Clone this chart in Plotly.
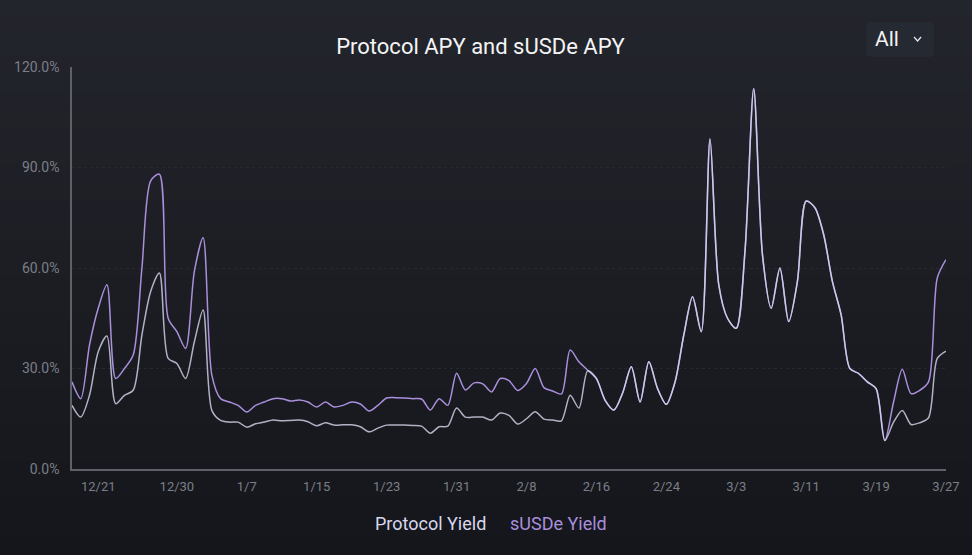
import pandas as pd
import plotly.graph_objects as go

dates = pd.date_range("2023-12-18", "2024-03-27", freq="D")

susde_yield = [
    26, 21, 37, 48, 55, 27, 30, 34, 60, 86,
    88, 45, 41, 36, 59, 69, 28, 21, 20, 19,
    17, 19, 20, 21, 21, 20.3, 20.6, 20, 18.5, 20,
    18.5, 19, 20, 19.4, 17.3, 19, 21.2, 21.3, 21.2, 21,
    20.9, 17.6, 21, 19, 28.6, 23.6, 25.7, 25.4, 23, 27,
    26.4, 23.4, 25.5, 30, 24.3, 23.3, 22.4, 35.5, 32, 29.5,
    27, 20.5, 17.6, 22.7, 30.5, 20, 32, 24, 19.3, 26,
    40, 51.4, 41, 98.5, 55, 45, 42, 65, 113.5, 64,
    48, 60, 44, 56, 80, 78, 70, 56, 46, 30,
    28.5, 26, 24, 8.5, 20, 29.8, 22.5, 23.5, 26, 57,
    62.5,
]

protocol_yield = [
    19, 15.5, 22, 35, 39.7, 19.5, 22, 23.5, 40, 53,
    58.5, 33, 31.5, 27, 38, 47.5, 17.5, 14.5, 14, 14,
    12.5, 13.5, 14, 14.6, 14.4, 14.5, 14.6, 14.1, 12.9, 13.8,
    13.1, 13.2, 13.2, 12.6, 11.1, 12.2, 13.1, 13.1, 13.1, 13,
    12.8, 10.7, 12.6, 12.8, 18.2, 15.5, 15.5, 15.5, 14.6, 16.7,
    16, 13.4, 15, 17.1, 14.9, 14.6, 14.4, 22, 18.2, 29.3,
    27, 20.5, 17.6, 22.7, 30.5, 20, 32, 24, 19.3, 26,
    40, 51.4, 41, 98.5, 55, 45, 42, 65, 113.5, 64,
    48, 60, 44, 56, 80, 78, 70, 56, 46, 30,
    28.5, 26, 24, 8.5, 14, 17.5, 13.3, 13.8, 15.3, 33,
    35.2,
]

tick_dates = ["2023-12-21", "2023-12-30", "2024-01-07", "2024-01-15", "2024-01-23",
              "2024-01-31", "2024-02-08", "2024-02-16", "2024-02-24", "2024-03-03",
              "2024-03-11", "2024-03-19", "2024-03-27"]
tick_text = ["12/21", "12/30", "1/7", "1/15", "1/23", "1/31", "2/8", "2/16",
             "2/24", "3/3", "3/11", "3/19", "3/27"]
y_ticks = [0, 30, 60, 90, 120]
y_text = ["0.0%", "30.0%", "60.0%", "90.0%", "120.0%"]

FONT = "Roboto"
PURPLE = "#a98fdc"
WHITE = "#d8d8ee"

fig = go.Figure()
fig.add_trace(go.Scatter(x=dates, y=susde_yield, mode="lines", name="sUSDe Yield",
                         line=dict(color=PURPLE, width=1.5, shape="spline", smoothing=0.8)))
fig.add_trace(go.Scatter(x=dates, y=protocol_yield, mode="lines", name="Protocol Yield",
                         opacity=0.8,
                         line=dict(color=WHITE, width=1.5, shape="spline", smoothing=0.8)))

# background gradient bands
shapes = []
top = (0x23, 0x25, 0x2c)
bot = (0x15, 0x16, 0x1b)
n = 30
y0p, y1p = -86 / 402, 1 + 67 / 402
for k in range(n):
    t = k / (n - 1)
    c = tuple(int(round(top[j] + (bot[j] - top[j]) * t)) for j in range(3))
    ya = y1p - (y1p - y0p) * k / n
    yb = y1p - (y1p - y0p) * (k + 1) / n
    shapes.append(dict(type="rect", xref="paper", yref="paper", x0=-0.1, x1=1.1,
                       y0=yb - 0.002, y1=ya + 0.002, fillcolor="rgb(%d,%d,%d)" % c,
                       line=dict(width=0), layer="below"))

# "All" button with rounded corners
bx0, bx1 = (868 - 72) / 876, (936 - 72) / 876
by0, by1 = (469 - 57) / 402, (469 - 22) / 402
rx, ry = 5 / 876, 5 / 402
path = (f"M {bx0+rx} {by0} L {bx1-rx} {by0} Q {bx1} {by0} {bx1} {by0+ry} "
        f"L {bx1} {by1-ry} Q {bx1} {by1} {bx1-rx} {by1} L {bx0+rx} {by1} "
        f"Q {bx0} {by1} {bx0} {by1-ry} L {bx0} {by0+ry} Q {bx0} {by0} {bx0+rx} {by0} Z")
shapes.append(dict(type="path", xref="paper", yref="paper", path=path,
                   fillcolor="#252932", line=dict(width=0)))
cx0, cx1, cxm = (916 - 72) / 876, (923 - 72) / 876, (919.5 - 72) / 876
cy0, cy1 = (469 - 37) / 402, (469 - 41) / 402
shapes.append(dict(type="path", xref="paper", yref="paper",
                   path=f"M {cx0} {cy0} L {cxm} {cy1} L {cx1} {cy0}",
                   line=dict(color="#e8e8ee", width=1.3)))

annotations = [
    dict(text="All", xref="paper", yref="paper", x=(889 - 72) / 876, y=(469 - 39) / 402,
         xanchor="center", yanchor="middle",
         showarrow=False, font=dict(family=FONT, size=21, color="#f2f2f5")),
    dict(text="Protocol Yield", xref="paper", yref="paper", x=(431.5 - 72) / 876,
         y=(469 - 523) / 402, xanchor="center", yanchor="middle",
         showarrow=False, font=dict(family=FONT, size=18, color=WHITE)),
    dict(text="sUSDe Yield", xref="paper", yref="paper", x=(559.5 - 72) / 876,
         y=(469 - 523) / 402, xanchor="center", yanchor="middle",
         showarrow=False, font=dict(family=FONT, size=18, color=PURPLE)),
]

fig.update_layout(
    width=972, height=555,
    margin=dict(l=72, r=24, t=67, b=86),
    paper_bgcolor="#1c1d24",
    plot_bgcolor="rgba(0,0,0,0)",
    showlegend=False,
    title=dict(text="Protocol APY and sUSDe APY", x=480.5 / 972, xanchor="center",
               y=1 - 46 / 555, yanchor="middle", yref="container",
               font=dict(family=FONT, size=22, color="#f4f4f6")),
    shapes=shapes,
    annotations=annotations,
    xaxis=dict(range=[dates[0], dates[-1]], tickvals=tick_dates, ticktext=tick_text,
               showgrid=False, zeroline=False, showline=True, linecolor="#5f616a",
               linewidth=1.5, ticks="", ticklabelstandoff=5,
               tickfont=dict(family=FONT, size=13, color="#7b7e88")),
    yaxis=dict(range=[0, 120], tickvals=y_ticks, ticktext=y_text,
               showgrid=True, gridcolor="#26282f", griddash="dot", gridwidth=1,
               zeroline=False, showline=True, linecolor="#5f616a", linewidth=1.5,
               ticks="", ticklabelstandoff=8,
               tickfont=dict(family=FONT, size=14, color="#7b7e88")),
)

fig.write_html("out.html", config={"displayModeBar": False},
               post_script="document.body.style.margin='0px';document.body.style.background='#1c1d24';")
